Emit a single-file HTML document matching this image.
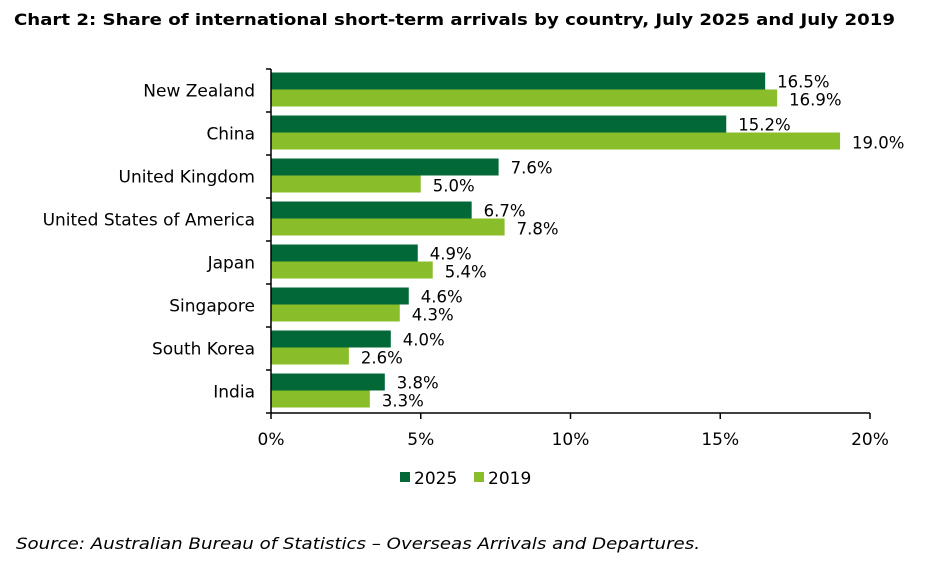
<!DOCTYPE html>
<html><head><meta charset="utf-8"><style>
body{margin:0;background:#fff;}
svg{display:block;font-family:"DejaVu Sans","Liberation Sans",sans-serif;}
</style></head><body>
<svg id="chart" width="931" height="567">
<text x="14" y="25" font-size="16" font-weight="bold" fill="#000" textLength="881" lengthAdjust="spacingAndGlyphs">Chart 2: Share of international short-term arrivals by country, July 2025 and July 2019</text>
<g id="plot"></g>
<g>
<rect x="400" y="472" width="10" height="10" fill="#036837"/>
<text x="414" y="484" font-size="17">2025</text>
<rect x="474" y="472" width="10" height="10" fill="#8abd2a"/>
<text x="488" y="484" font-size="17">2019</text>
</g>
<text x="16" y="549" font-size="16" font-style="italic" textLength="684" lengthAdjust="spacingAndGlyphs">Source: Australian Bureau of Statistics – Overseas Arrivals and Departures.</text>
</svg>
<script>
const categories=["New Zealand","China","United Kingdom","United States of America","Japan","Singapore","South Korea","India"];
const values2025=[16.5,15.2,7.6,6.7,4.9,4.6,4.0,3.8];
const values2019=[16.9,19.0,5.0,7.8,5.4,4.3,2.6,3.3];
const ticks=[0,5,10,15,20];
const NS="http://www.w3.org/2000/svg";
const plotG=document.getElementById('plot');
const x0=271,x1=870,yTop=69,yBottom=413;
const band=(yBottom-yTop)/categories.length;
const xs=v=>x0+(v/20)*(x1-x0);
function mk(t,a,txt){const e=document.createElementNS(NS,t);for(const k in a)e.setAttribute(k,a[k]);if(txt!=null)e.textContent=txt;plotG.appendChild(e);return e;}
categories.forEach((c,i)=>{
 const y=yTop+i*band;
 const bh=17;const by=y+band/2-bh-1;
 let r=mk('rect',{x:x0,y:by,width:xs(values2025[i])-x0,height:bh,fill:'#036837'});
 
 
 r=mk('rect',{x:x0,y:by+bh,width:xs(values2019[i])-x0,height:bh,fill:'#8abd2a'});
 
 
 let t=mk('text',{x:xs(values2025[i])+12,y:by+bh-2,'font-size':16.5},values2025[i].toFixed(1)+'%');
 
 
 t=mk('text',{x:xs(values2019[i])+12,y:by+2*bh-1,'font-size':16.5},values2019[i].toFixed(1)+'%');
 
 
 t=mk('text',{x:255,y:y+band/2+6,'font-size':17,'text-anchor':'end'},c);
 
 
 const tk=mk('line',{x1:x0-5,x2:x0,y1:y,y2:y,stroke:'#000','stroke-width':1.5});
 
 
});
let l=mk('line',{x1:x0-5,x2:x0,y1:yBottom,y2:yBottom,stroke:'#000','stroke-width':1.5});


l=mk('line',{x1:x0,x2:x0,y1:yTop,y2:yBottom,stroke:'#000','stroke-width':1.5});


l=mk('line',{x1:x0,x2:x1,y1:yBottom,y2:yBottom,stroke:'#000','stroke-width':1.5});


ticks.forEach(v=>{
 const x=xs(v);
 let e=mk('line',{x1:x,x2:x,y1:yBottom,y2:yBottom+6,stroke:'#000','stroke-width':1.5});
 
 
 e=mk('text',{x:x,y:445,'font-size':17,'text-anchor':'middle'},v+'%');
 
 
});
</script>
</body></html>
